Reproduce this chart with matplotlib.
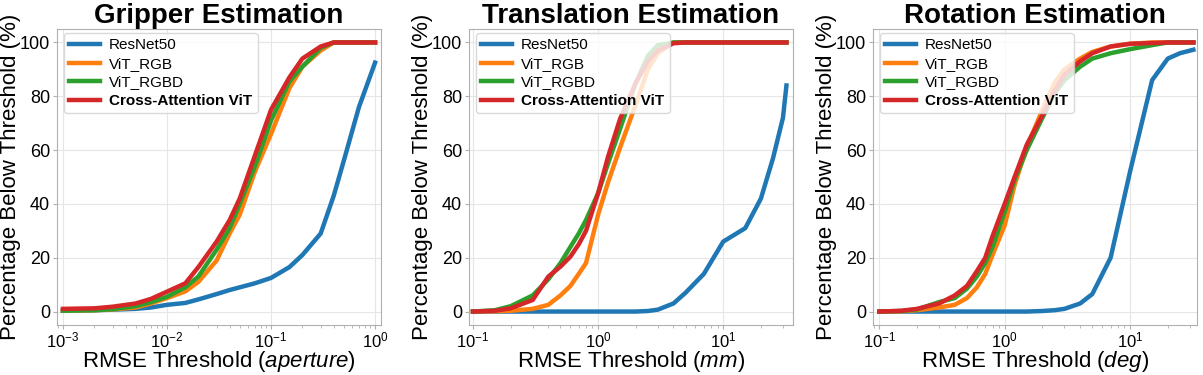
import matplotlib
matplotlib.use("Agg")
import matplotlib.pyplot as plt
import numpy as np

plt.rcParams['font.family'] = ['Liberation Sans', 'DejaVu Sans']
plt.rcParams['mathtext.fontset'] = 'custom'
plt.rcParams['mathtext.rm'] = 'Liberation Sans'
plt.rcParams['mathtext.it'] = 'Liberation Sans:italic'

labels = ["ResNet50", "ViT_RGB", "ViT_RGBD", "Cross-Attention ViT"]
colors = ["#1f77b4", "#ff7f0e", "#2ca02c", "#d62728"]

# --- Gripper ---
grip_x = [0.001, 0.002, 0.003, 0.005, 0.007, 0.01, 0.015, 0.02, 0.03, 0.04, 0.05,
          0.07, 0.1, 0.15, 0.2, 0.3, 0.4, 0.5, 0.7, 1.0]
grip_resnet = [0.5, 0.5, 0.7, 1, 1.5, 2.5, 3.2, 4.5, 6.5, 8, 9, 10.5, 12.5, 16.5, 21, 29, 43, 56, 76, 92.5]
grip_rgb = [0.3, 0.5, 0.8, 1.5, 3, 5, 7.5, 11, 19, 29, 36, 52, 66, 83, 91, 97, 100, 100, 100, 100]
grip_rgbd = [0.3, 0.5, 0.9, 2, 3.5, 5.5, 9, 13, 23, 31, 40, 54, 71, 85.5, 91, 98, 100, 100, 100, 100]
grip_cross = [1, 1.2, 1.8, 3, 4.7, 7.4, 10.5, 16.5, 26, 34, 42, 58, 75, 87, 94, 98.5, 100, 100, 100, 100]

# --- Translation ---
trans_x = [0.1, 0.15, 0.2, 0.3, 0.4, 0.5, 0.6, 0.7, 0.8, 1.0, 1.2, 1.5, 2, 2.5, 3, 4,
           5, 7, 10, 15, 20, 25, 30, 32]
trans_resnet = [0, 0, 0, 0, 0, 0, 0, 0, 0, 0, 0, 0, 0, 0.2, 0.7, 3, 7, 14, 26, 31, 42, 57, 72, 84]
trans_rgb = [0, 0.1, 0.3, 1, 2.5, 6, 9.5, 14, 18, 36, 48, 61, 77, 90, 96, 100,
             100, 100, 100, 100, 100, 100, 100, 100]
trans_rgbd = [0, 0.5, 2, 6, 12, 18, 24, 29, 34, 44, 55, 68, 85, 95, 99, 100,
              100, 100, 100, 100, 100, 100, 100, 100]
trans_cross = [0, 0.3, 1.2, 4.3, 13, 16.7, 20.4, 25, 30, 44, 57.5, 71.7, 85, 93, 97, 99.7,
               100, 100, 100, 100, 100, 100, 100, 100]

# --- Rotation ---
rot_x = [0.1, 0.15, 0.2, 0.3, 0.4, 0.5, 0.6, 0.7, 0.8, 1.0, 1.2, 1.5, 2, 2.5, 3, 4,
         5, 7, 10, 15, 20, 25, 32]
rot_resnet = [0, 0, 0, 0, 0, 0, 0, 0, 0, 0, 0, 0, 0.2, 0.5, 1, 3, 6.5, 20, 52, 86, 94, 96, 97.3]
rot_rgb = [0, 0.1, 0.5, 1.5, 2.5, 5, 9, 14, 21, 32, 47, 61, 75, 85, 90, 94,
           96.5, 98.5, 99.5, 100, 100, 100, 100]
rot_rgbd = [0, 0.2, 0.8, 3.5, 5, 8.5, 13, 18, 24, 37, 49, 60, 72, 81, 86, 91,
            94, 96, 97.5, 99, 100, 100, 100]
rot_cross = [0, 0.3, 1, 3, 6, 9.5, 15, 20, 28, 40, 50, 62, 73, 82, 88, 93,
             96, 98.5, 99.5, 99.8, 100, 100, 100]

panels = [
    ("Gripper Estimation", r"RMSE Threshold ($aperture$)", grip_x,
     [grip_resnet, grip_rgb, grip_rgbd, grip_cross], (0.000876, 1.14)),
    ("Translation Estimation", r"RMSE Threshold ($mm$)", trans_x,
     [trans_resnet, trans_rgb, trans_rgbd, trans_cross], (0.0929, 36.1)),
    ("Rotation Estimation", r"RMSE Threshold ($deg$)", rot_x,
     [rot_resnet, rot_rgb, rot_rgbd, rot_cross], (0.0891, 34.2)),
]

W, H = 1203, 375
fig = plt.figure(figsize=(W / 100, H / 100), dpi=100)
lefts = [57, 469, 873]
aw, ah = 324, 296

for i, (title, xlab, xs, series, xlim) in enumerate(panels):
    ax = fig.add_axes([lefts[i] / W, 50 / H, aw / W, ah / H])
    for ys, lab, c in zip(series, labels, colors):
        ax.plot(xs, ys, color=c, lw=3.2, label=lab)
    ax.set_xscale('log')
    ax.set_xlim(*xlim)
    ax.set_ylim(-5, 105)
    ax.set_yticks([0, 20, 40, 60, 80, 100])
    ax.grid(True, which='major', color='#e6e6e6', lw=0.8)
    ax.set_axisbelow(True)
    for s in ax.spines.values():
        s.set_color('#b0b0b0')
        s.set_linewidth(0.8)
    ax.tick_params(axis='y', which='major', labelsize=13, length=3, color='#b0b0b0', pad=2)
    ax.tick_params(axis='x', which='major', labelsize=12, length=3, color='#b0b0b0', pad=1)
    ax.tick_params(axis='x', which='minor', length=2, color='#b0b0b0')
    ax.set_title(title, fontsize=20, fontweight='bold', pad=4)
    ax.set_xlabel(xlab, fontsize=16)
    ax.xaxis.set_label_coords(0.5, -0.082)
    ax.set_ylabel("Percentage Below Threshold (%)", fontsize=16)
    ax.yaxis.set_label_coords(-36 / aw, 0.5)
    leg = ax.legend(loc='upper left', bbox_to_anchor=(7 / aw, 1 - 4 / ah), borderaxespad=0,
                    fontsize=11, handlelength=2.0, handletextpad=0.6, labelspacing=0.3,
                    borderpad=0.35, edgecolor='#d0d0d0')
    leg.get_texts()[3].set_fontweight('bold')

fig.savefig("out.png", dpi=100)
